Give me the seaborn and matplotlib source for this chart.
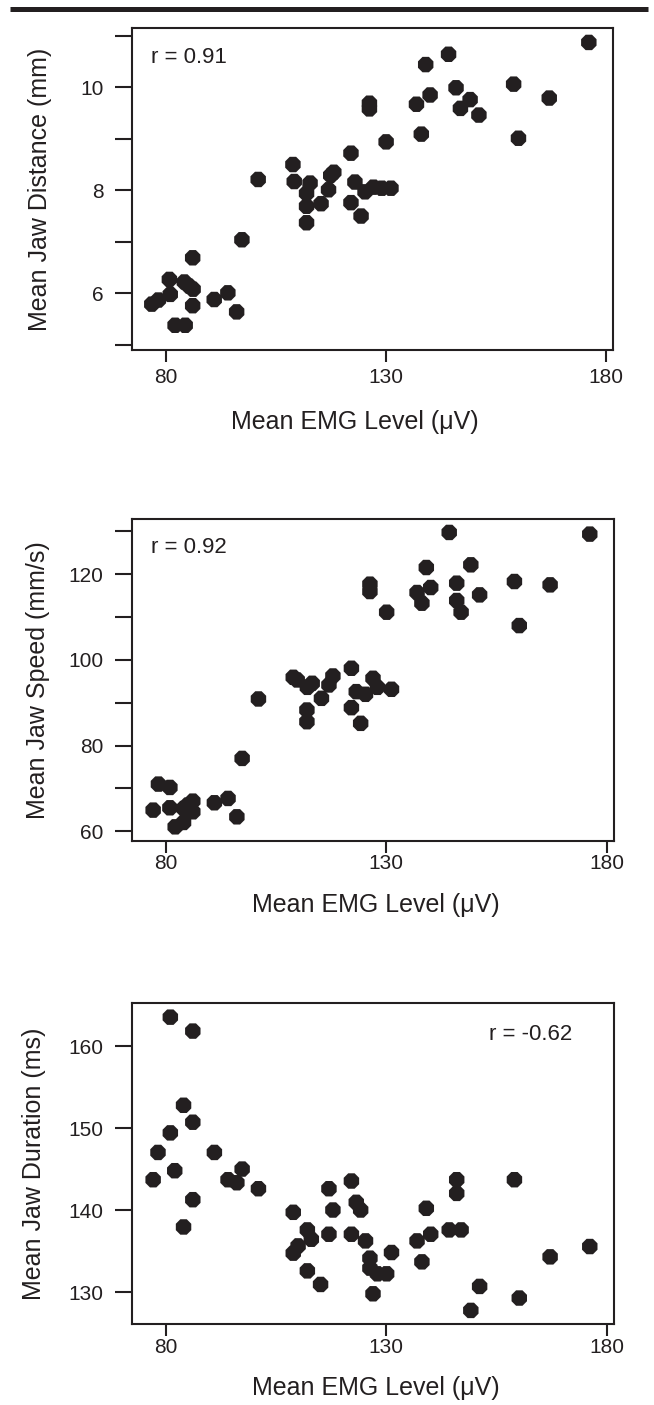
import matplotlib
matplotlib.use("Agg")
import matplotlib.pyplot as plt
from matplotlib.lines import Line2D
import seaborn as sns
import pandas as pd

# ---- data -------------------------------------------------------------
# Panel A: jaw distance vs EMG
emg_dist = [176.2, 144.3, 139.1, 159.1, 146.0, 140.1, 149.2, 167.2, 126.3, 126.3,
            137.0, 147.0, 151.2, 138.1, 160.2, 130.1, 122.1, 108.9, 101.0, 109.2,
            112.8, 112.0, 112.0, 115.3, 117.0, 117.5, 118.2, 112.0, 123.0, 125.3,
            127.2, 129.1, 131.2, 122.1, 124.4, 86.1, 80.8, 84.2, 86.2, 81.0,
            76.8, 78.3, 86.1, 91.0, 94.1, 96.1, 82.1, 84.4, 97.3, 85.3]
jaw_dist = [10.87, 10.64, 10.44, 10.06, 9.99, 9.85, 9.76, 9.79, 9.69, 9.58,
            9.67, 9.59, 9.46, 9.09, 9.01, 8.94, 8.72, 8.50, 8.21, 8.17,
            8.14, 7.94, 7.69, 7.74, 8.01, 8.29, 8.35, 7.37, 8.16, 7.97,
            8.06, 8.04, 8.04, 7.76, 7.50, 6.69, 6.27, 6.22, 6.08, 5.98,
            5.79, 5.87, 5.76, 5.88, 6.01, 5.64, 5.38, 5.38, 7.04, 6.14]

# Panel B: jaw speed vs EMG
emg_speed = [144.3, 176.2, 139.1, 149.2, 126.3, 126.3, 140.1, 146.0, 159.1, 167.2,
             137.0, 138.1, 151.2, 146.0, 147.0, 130.1, 160.2,
             108.9, 109.8, 112.1, 113.2, 117.9, 117.0, 115.3, 122.1, 112.0, 112.0,
             123.2, 125.3, 127.0, 128.0, 131.2, 122.1, 124.2, 101.0,
             78.3, 80.9, 77.1, 80.9, 86.1, 84.0, 86.1, 82.1, 84.0, 91.0,
             94.1, 96.1, 97.3, 84.9]
jaw_speed = [129.76, 129.37, 121.57, 122.20, 117.68, 115.96, 116.90, 117.91, 118.30, 117.52,
             115.73, 113.23, 115.18, 113.86, 111.13, 111.13, 108.01,
             95.93, 95.31, 93.59, 94.53, 96.24, 94.14, 91.02, 98.04, 88.29, 85.56,
             92.58, 91.96, 95.70, 93.59, 93.13, 88.84, 85.18, 90.87,
             70.99, 70.21, 64.91, 65.46, 67.01, 65.30, 64.52, 61.01, 62.03, 66.63,
             67.64, 63.35, 76.99, 66.08]

# Panel C: jaw duration vs EMG
emg_dur = [81.0, 86.1, 84.0, 86.1, 81.0, 78.2, 91.0, 82.0, 77.1, 97.3,
           94.1, 96.1, 101.0, 86.1, 84.0, 108.9, 117.0, 122.1, 117.9, 123.2,
           124.2, 112.1, 113.0, 117.0, 122.1, 110.0, 108.9, 125.3, 126.3, 126.3,
           128.0, 130.1, 131.2, 112.1, 115.1, 127.0, 137.0, 138.1, 139.1, 140.1,
           144.3, 147.0, 146.0, 146.0, 151.2, 149.2, 159.1, 160.2, 167.2, 176.2]
jaw_dur = [163.57, 161.87, 152.81, 150.74, 149.44, 147.05, 147.05, 144.82, 143.72, 145.02,
           143.72, 143.35, 142.62, 141.28, 137.95, 139.74, 142.62, 143.56, 140.02, 140.96,
           140.02, 137.59, 136.45, 137.06, 137.06, 135.64, 134.75, 136.25, 134.14, 132.92,
           132.23, 132.23, 134.83, 132.59, 130.93, 129.79, 136.25, 133.69, 140.23, 137.06,
           137.59, 137.59, 143.72, 142.05, 130.69, 127.76, 143.72, 129.27, 134.30, 135.56]

x_ticks = [80, 130, 180]
x_label = "Mean EMG Level (\u03bcV)"
y_labels = ["Mean Jaw Distance (mm)", "Mean Jaw Speed (mm/s)", "Mean Jaw Duration (ms)"]
r_texts = ["r = 0.91", "r = 0.92", "r = -0.62"]
y_major = [[6, 8, 10], [60, 80, 100, 120], [130, 140, 150, 160]]
y_minor = [[5, 7, 9, 11], [70, 90, 110, 130], []]

# ---- style ------------------------------------------------------------
sns.set_style("ticks")
plt.rcParams["font.family"] = ["Liberation Sans", "DejaVu Sans"]
ink = "#231f20"

W, H = 654, 1405
fig = plt.figure(figsize=(W / 100, H / 100), dpi=100)

# rule across the top of the page
fig.add_artist(Line2D([10 / W, 648 / W], [1 - 9 / H, 1 - 9 / H],
                      transform=fig.transFigure, color=ink, lw=3.6,
                      solid_capstyle="butt"))

# axes boxes in pixel space: (left, top, right, bottom)
boxes = [(132, 28, 613, 350), (132, 519, 614, 841), (132, 1003, 614, 1324)]
ylims = [(4.9, 11.15), (57.7, 132.9), (126.1, 165.3)]
xpads = [4.5, 0.5, 1.5]
xlab_pos = [(0.464, -0.186), (0.505, -0.163), (0.505, -0.162)]
ylab_pos = [(-0.166, 0.5), (-0.17, 0.5), (-0.178, 0.5)]
r_pos = [(0.039, 0.908, "left"), (0.039, 0.912, "left"), (0.914, 0.903, "right")]

panels = [(emg_dist, jaw_dist), (emg_speed, jaw_speed), (emg_dur, jaw_dur)]

for i, ((xs, ys), (l, t, r, b)) in enumerate(zip(panels, boxes)):
    ax = fig.add_axes([l / W, 1 - b / H, (r - l) / W, (b - t) / H])
    df = pd.DataFrame({"emg": xs, "val": ys})
    sns.scatterplot(data=df, x="emg", y="val", ax=ax, marker="8", s=145,
                    color=ink, edgecolor="none", linewidth=0, legend=False)
    ax.set_xlim(72.3, 181.7)
    ax.set_ylim(*ylims[i])
    ax.set_xticks(x_ticks)
    ax.set_yticks(y_major[i])
    ax.set_yticks(y_minor[i], minor=True)
    for sp in ax.spines.values():
        sp.set_visible(True)
        sp.set_linewidth(1.5)
        sp.set_color(ink)
    ax.tick_params(axis="x", which="both", length=8.6, width=1.5, color=ink,
                   labelsize=15, labelcolor=ink, pad=xpads[i])
    ax.tick_params(axis="y", which="both", length=12, width=1.5, color=ink,
                   labelsize=15, labelcolor=ink, pad=8.5)
    ax.set_xlabel(x_label, fontsize=18, color=ink)
    ax.set_ylabel(y_labels[i], fontsize=18, color=ink)
    ax.xaxis.set_label_coords(*xlab_pos[i])
    ax.yaxis.set_label_coords(*ylab_pos[i])
    rx, ry, ha = r_pos[i]
    ax.text(rx, ry, r_texts[i], transform=ax.transAxes, ha=ha, va="center",
            fontsize=16, color=ink)

fig.savefig("out.png", dpi=100)
